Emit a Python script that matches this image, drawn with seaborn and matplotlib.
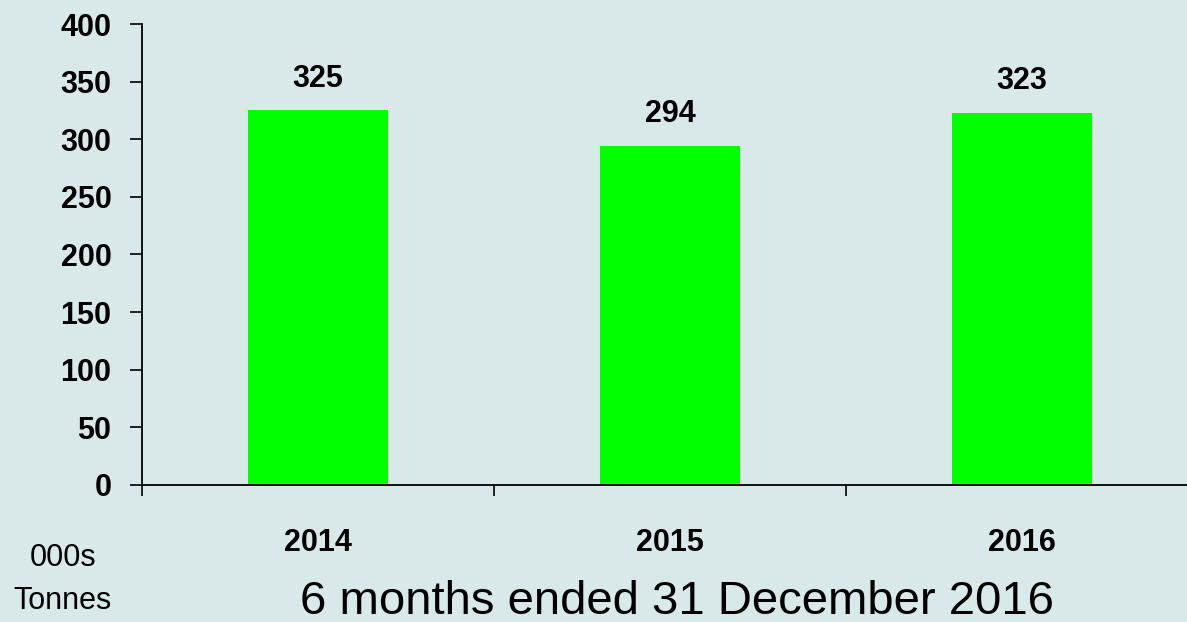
import pandas as pd
import numpy as np
import matplotlib
matplotlib.use('Agg')
import matplotlib.pyplot as plt
import seaborn as sns

# data
years = ['2014', '2015', '2016']
tonnes = [325, 294, 323]
yticks = [0, 50, 100, 150, 200, 250, 300, 350, 400]

bg = '#d9e8e8'
sns.set_style('white')
plt.rcParams['font.family'] = ['Liberation Sans', 'DejaVu Sans']
plt.rcParams['text.color'] = 'black'
plt.rcParams['xtick.color'] = 'black'
plt.rcParams['ytick.color'] = 'black'

df = pd.DataFrame({'year': years, 'tonnes': tonnes})

fig = plt.figure(figsize=(11.87, 6.22), dpi=100, facecolor=bg)
ax = fig.add_axes([142/1187, 137/622, 1056/1187, 461/622])
ax.set_facecolor(bg)

sns.barplot(data=df, x='year', y='tonnes', color='#00ff00', width=0.4,
            saturation=1, edgecolor='none', linewidth=0, ax=ax)

# value labels above bars
for c in ax.containers:
    ax.bar_label(c, labels=[str(v) for v in tonnes], padding=12,
                 fontsize=22, fontweight='bold', color='black')

ax.set_ylim(0, 400)
ax.set_xlim(-0.5, 2.5)
ax.set_yticks(yticks)
ax.set_yticklabels([str(t) for t in yticks], fontsize=22, fontweight='bold')
ax.set_xticks(range(len(years)))
ax.set_xticklabels(years, fontsize=22, fontweight='bold')
ax.set_xticks([-0.5, 0.5, 1.5, 2.5], minor=True)
ax.tick_params(axis='x', which='major', bottom=True, length=0, pad=31)
ax.tick_params(axis='x', which='minor', bottom=True, length=8, width=1.2,
               color='black', direction='out')
ax.tick_params(axis='y', left=True, length=9, width=1.2, color='black', pad=13)
ax.set_xlabel('')
ax.set_ylabel('')

for s in ['top', 'right']:
    ax.spines[s].set_visible(False)
for s in ['left', 'bottom']:
    ax.spines[s].set_color('black')
    ax.spines[s].set_linewidth(1.3)

fig.text(63/1187, 1 - 558/622, '000s', fontsize=22, ha='center', va='center')
fig.text(63/1187, 1 - 601/622, 'Tonnes', fontsize=22, ha='center', va='center')
fig.text(677/1187, 1 - 602/622, '6 months ended 31 December 2016',
         fontsize=34, ha='center', va='center')

fig.savefig('out.png', dpi=100, facecolor=bg)
